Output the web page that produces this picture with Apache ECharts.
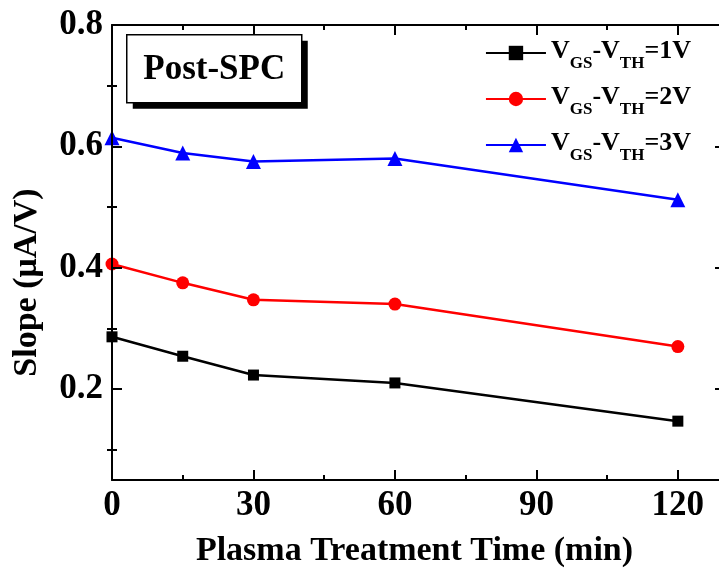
<!DOCTYPE html>
<html>
<head>
<meta charset="utf-8">
<script src="https://cdn.jsdelivr.net/npm/echarts@6/dist/echarts.min.js"></script>
<style>
  html, body { margin: 0; padding: 0; background: #ffffff; }
  #chart { width: 719px; height: 572px; }
</style>
</head>
<body>
<div id="chart"></div>
<script>
// Plasma treatment time (min)
const times = [0, 15, 30, 60, 120];
// Slope (uA/V) for each gate overdrive
const slope1V = [0.286, 0.254, 0.223, 0.210, 0.147];
const slope2V = [0.406, 0.375, 0.347, 0.340, 0.270];
const slope3V = [0.614, 0.589, 0.575, 0.580, 0.512];
// Tick positions
const xMajorTicks = [0, 30, 60, 90, 120];
const xMinorTicks = [15, 45, 75, 105];
const yMajorTicks = [0.2, 0.4, 0.6, 0.8];
const yMinorTicks = [0.1, 0.3, 0.5, 0.7];
const overdrives = ['1V', '2V', '3V'];

const FONT = '"Liberation Serif", "Times New Roman", serif';
const X_MIN = 0, X_MAX = 130, Y_MIN = 0.05, Y_MAX = 0.8;

function pairs(xs, ys) { return xs.map((x, i) => [x, ys[i]]); }

function frameAxis(extra) {
  return Object.assign({
    type: 'value',
    splitLine: { show: false },
    axisLine: { show: false, lineStyle: { color: '#000', width: 2 } },
    axisTick: { show: true, inside: true, length: 10, lineStyle: { color: '#000', width: 2 } },
    axisLabel: { show: false },
    z: 5
  }, extra);
}

const xAxes = [
  frameAxis({
    min: X_MIN, max: X_MAX, position: 'bottom',
    axisLine: { show: true, onZero: false, lineStyle: { color: '#000', width: 2 } },
    axisTick: { show: true, inside: true, length: 10, customValues: xMajorTicks, lineStyle: { color: '#000', width: 2 } },
    axisLabel: { show: true, customValues: xMajorTicks, margin: 8, color: '#000',
      fontFamily: FONT, fontWeight: 'bold', fontSize: 35 },
    name: 'Plasma Treatment Time (min)', nameLocation: 'middle', nameGap: 54,
    nameTextStyle: { color: '#000', fontFamily: FONT, fontWeight: 'bold', fontSize: 34,
      padding: [0, 8, 0, 0] }
  }),
  frameAxis({ min: X_MIN, max: X_MAX, position: 'bottom',
    axisTick: { show: true, inside: true, length: 5, customValues: xMinorTicks, lineStyle: { color: '#000', width: 2 } } }),
  frameAxis({ min: X_MIN, max: X_MAX, position: 'top',
    axisLine: { show: true, onZero: false, lineStyle: { color: '#000', width: 2 } },
    axisTick: { show: true, inside: true, length: 10, customValues: xMajorTicks, lineStyle: { color: '#000', width: 2 } } }),
  frameAxis({ min: X_MIN, max: X_MAX, position: 'top',
    axisTick: { show: true, inside: true, length: 5, customValues: xMinorTicks, lineStyle: { color: '#000', width: 2 } } })
];

const yAxes = [
  frameAxis({
    min: Y_MIN, max: Y_MAX, position: 'left',
    axisLine: { show: true, onZero: false, lineStyle: { color: '#000', width: 2 } },
    axisTick: { show: true, inside: true, length: 10, customValues: yMajorTicks, lineStyle: { color: '#000', width: 2 } },
    axisLabel: { show: true, customValues: yMajorTicks, margin: 9, color: '#000',
      fontFamily: FONT, fontWeight: 'bold', fontSize: 35,
      formatter: v => v.toFixed(1) },
    name: 'Slope (\u03bcA/V)', nameLocation: 'middle', nameGap: 68, nameRotate: 90,
    nameTextStyle: { color: '#000', fontFamily: FONT, fontWeight: 'bold', fontSize: 34,
      padding: [0, 60, 0, 0] }
  }),
  frameAxis({ min: Y_MIN, max: Y_MAX, position: 'left',
    axisTick: { show: true, inside: true, length: 5, customValues: yMinorTicks, lineStyle: { color: '#000', width: 2 } } }),
  frameAxis({ min: Y_MIN, max: Y_MAX, position: 'right',
    axisLine: { show: true, onZero: false, lineStyle: { color: '#000', width: 2 } },
    axisTick: { show: true, inside: true, length: 10, customValues: yMajorTicks, lineStyle: { color: '#000', width: 2 } } }),
  frameAxis({ min: Y_MIN, max: Y_MAX, position: 'right',
    axisTick: { show: true, inside: true, length: 5, customValues: yMinorTicks, lineStyle: { color: '#000', width: 2 } } })
];

const seriesDefs = [
  { key: overdrives[0], values: slope1V, color: '#000000', symbol: 'rect', size: 11 },
  { key: overdrives[1], values: slope2V, color: '#ff0000', symbol: 'circle', size: 13 },
  { key: overdrives[2], values: slope3V, color: '#0000ff', symbol: 'triangle', size: 15 }
];

const series = seriesDefs.map(d => ({
  name: 'VGS-VTH=' + d.key,
  type: 'line',
  xAxisIndex: 0, yAxisIndex: 0,
  data: pairs(times, d.values),
  symbol: d.symbol, symbolSize: d.size,
  itemStyle: { color: d.color },
  lineStyle: { color: d.color, width: 2.5 },
  z: 3
}));

const chart = echarts.init(document.getElementById('chart'), null, { renderer: 'canvas' });
chart.setOption({
  animation: false,
  backgroundColor: '#ffffff',
  grid: { left: 112, width: 613, top: 25, height: 455, containLabel: false, outerBoundsMode: 'none' },
  xAxis: xAxes,
  yAxis: yAxes,
  legend: {
    orient: 'vertical', right: 23, top: 33,
    itemWidth: 60, itemHeight: 18, itemGap: 12,
    data: series.map(s => s.name),
    formatter: name => {
      const v = name.split('=')[1];
      return '{m|V}{s|GS}{m|-V}{s|TH}{m|=' + v + '}';
    },
    textStyle: {
      color: '#000',
      rich: {
        m: { fontFamily: FONT, fontWeight: 'bold', fontSize: 26, lineHeight: 30, verticalAlign: 'top', color: '#000' },
        s: { fontFamily: FONT, fontWeight: 'bold', fontSize: 17, lineHeight: 17, verticalAlign: 'top', padding: [17, 0, 0, 0], color: '#000' }
      }
    }
  },
  graphic: [{
    type: 'group', left: 126, top: 34, z: 10,
    children: [
      { type: 'rect', shape: { x: 6, y: 6, width: 175, height: 68 }, style: { fill: '#000' } },
      { type: 'rect', shape: { x: 0, y: 0, width: 175, height: 68 }, style: { fill: '#fff', stroke: '#000', lineWidth: 1.5 } },
      { type: 'text', x: 87.5, y: 35, style: { text: 'Post-SPC', fill: '#000', font: 'bold 35px ' + FONT, align: 'center', verticalAlign: 'middle' } }
    ]
  }],
  series: series
});
</script>
</body>
</html>
